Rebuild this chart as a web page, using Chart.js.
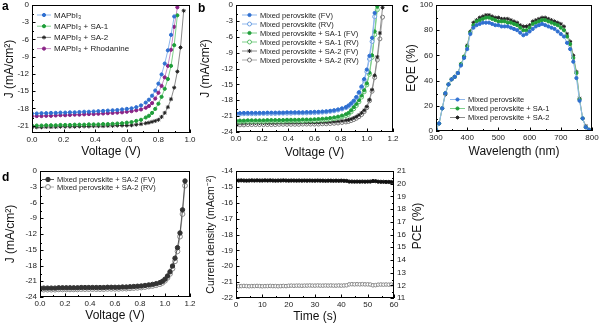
<!DOCTYPE html>
<html>
<head>
<meta charset="utf-8">
<script src="https://cdn.jsdelivr.net/npm/chart.js@4.4.1/dist/chart.umd.min.js"></script>
<style>
  body { margin: 0; background: #fff; }
  #wrap { position: relative; width: 600px; height: 324px; overflow: hidden; }
  canvas { position: absolute; }
  .tag { position: absolute; font: bold 12px 'Liberation Sans', Arial, sans-serif; line-height: 12px; color: #000; }
</style>
</head>
<body>
<div id="wrap">
  <canvas id="ca" width="198" height="162" style="left:0;top:0"></canvas>
  <canvas id="cb" width="205" height="162" style="left:198px;top:0"></canvas>
  <canvas id="cc" width="200" height="162" style="left:400px;top:0"></canvas>
  <canvas id="cd" width="198" height="162" style="left:0;top:162px"></canvas>
  <canvas id="ce" width="224" height="162" style="left:200px;top:162px"></canvas>
  <div class="tag" style="left:2px;top:0">a</div>
  <div class="tag" style="left:198px;top:2px">b</div>
  <div class="tag" style="left:402px;top:2px">c</div>
  <div class="tag" style="left:2px;top:171px">d</div>
</div>
<script>
// ---- panel a: J-V, MAPbI3 with additives
const vA = [0, 0.03, 0.06, 0.09, 0.12, 0.15, 0.18, 0.21, 0.24, 0.27, 0.30, 0.33, 0.36, 0.39, 0.42, 0.45, 0.48, 0.51, 0.54, 0.57, 0.60, 0.63, 0.66, 0.69, 0.72, 0.74, 0.76, 0.78, 0.80, 0.82, 0.84, 0.86, 0.88, 0.90, 0.92, 0.94, 0.96];
const jMAPbI = [-18.9, -18.9, -18.85, -18.85, -18.8, -18.8, -18.75, -18.75, -18.7, -18.7, -18.65, -18.6, -18.6, -18.55, -18.5, -18.45, -18.4, -18.35, -18.3, -18.2, -18.1, -18.0, -17.8, -17.5, -17.0, -16.5, -15.8, -14.9, -13.7, -12.1, -10.2, -7.9, -5.2, -2.0];
const jSA1 = [-21.0, -21.0, -21.0, -20.95, -20.95, -20.95, -20.9, -20.9, -20.9, -20.85, -20.85, -20.85, -20.8, -20.8, -20.8, -20.75, -20.75, -20.7, -20.65, -20.6, -20.5, -20.4, -20.2, -20.0, -19.6, -19.3, -18.8, -18.1, -17.2, -16.0, -14.6, -12.9, -10.6, -7.0, -1.8];
const jSA2 = [-21.3, -21.3, -21.3, -21.25, -21.25, -21.25, -21.2, -21.2, -21.2, -21.2, -21.15, -21.15, -21.15, -21.1, -21.1, -21.1, -21.05, -21.05, -21.0, -21.0, -21.0, -20.95, -20.85, -20.75, -20.6, -20.5, -20.35, -20.2, -20.0, -19.5, -18.8, -17.8, -16.4, -14.4, -11.6, -7.4, -1.0];
const jRhod = [-19.4, -19.35, -19.35, -19.3, -19.3, -19.25, -19.2, -19.2, -19.15, -19.1, -19.1, -19.05, -19.0, -19.0, -18.95, -18.9, -18.85, -18.8, -18.75, -18.7, -18.6, -18.5, -18.35, -18.2, -17.9, -17.6, -17.1, -16.3, -15.3, -14.1, -12.6, -10.6, -7.8, -3.8, -0.4];

// ---- panel b: J-V, mixed perovskite, forward / reverse scans
const vB = [0, 0.03, 0.06, 0.09, 0.12, 0.15, 0.18, 0.21, 0.24, 0.27, 0.30, 0.33, 0.36, 0.39, 0.42, 0.45, 0.48, 0.51, 0.54, 0.57, 0.60, 0.63, 0.66, 0.69, 0.72, 0.75, 0.78, 0.81, 0.84, 0.86, 0.88, 0.90, 0.92, 0.94, 0.96, 0.98, 1.00, 1.02, 1.04, 1.06, 1.08, 1.10, 1.12];
const jMixFV = [-20.45, -20.45, -20.4, -20.4, -20.4, -20.4, -20.4, -20.4, -20.35, -20.35, -20.35, -20.35, -20.35, -20.3, -20.3, -20.3, -20.3, -20.3, -20.25, -20.25, -20.2, -20.2, -20.15, -20.1, -20.0, -19.9, -19.75, -19.55, -19.3, -19.0, -18.6, -18.1, -17.4, -16.5, -15.4, -14.0, -12.2, -9.6, -6.2, -1.5];
const jMixRV = [-20.6, -20.6, -20.55, -20.55, -20.55, -20.55, -20.5, -20.5, -20.5, -20.5, -20.5, -20.45, -20.45, -20.45, -20.45, -20.4, -20.4, -20.4, -20.4, -20.35, -20.35, -20.3, -20.25, -20.2, -20.1, -20.0, -19.85, -19.65, -19.4, -19.1, -18.7, -18.2, -17.5, -16.6, -15.5, -14.2, -12.6, -10.2, -6.9, -2.2];
const jMixSA1FV = [-21.85, -21.85, -21.85, -21.8, -21.8, -21.8, -21.8, -21.8, -21.75, -21.75, -21.75, -21.75, -21.75, -21.7, -21.7, -21.7, -21.7, -21.65, -21.65, -21.65, -21.6, -21.55, -21.5, -21.45, -21.35, -21.25, -21.1, -20.9, -20.65, -20.4, -19.9, -19.3, -18.7, -18.0, -17.1, -16.1, -14.8, -12.8, -9.5, -5.0, -0.3];
const jMixSA1RV = [-22.05, -22.05, -22.0, -22.0, -22.0, -22.0, -22.0, -22.0, -21.95, -21.95, -21.95, -21.95, -21.95, -21.9, -21.9, -21.9, -21.9, -21.9, -21.85, -21.85, -21.85, -21.8, -21.75, -21.7, -21.6, -21.5, -21.35, -21.15, -20.9, -20.65, -20.2, -19.6, -19.0, -18.3, -17.4, -16.4, -15.1, -13.1, -9.9, -5.6, -0.9];
const jMixSA2FV = [-22.35, -22.35, -22.35, -22.3, -22.3, -22.3, -22.3, -22.3, -22.3, -22.3, -22.3, -22.25, -22.25, -22.25, -22.25, -22.25, -22.25, -22.2, -22.2, -22.2, -22.2, -22.2, -22.15, -22.15, -22.1, -22.05, -22.0, -21.9, -21.8, -21.7, -21.55, -21.35, -21.1, -20.8, -20.4, -19.9, -19.2, -17.9, -16.0, -13.3, -9.8, -5.3, -0.5];
const jMixSA2RV = [-22.65, -22.65, -22.65, -22.6, -22.6, -22.6, -22.6, -22.6, -22.6, -22.6, -22.6, -22.55, -22.55, -22.55, -22.55, -22.55, -22.55, -22.5, -22.5, -22.5, -22.5, -22.5, -22.45, -22.45, -22.4, -22.35, -22.3, -22.2, -22.1, -22.0, -21.85, -21.65, -21.4, -21.1, -20.7, -20.15, -19.4, -18.1, -16.3, -13.7, -10.4, -6.4, -2.3];

// ---- panel c: EQE spectra
const wl = [300, 310, 320, 330, 340, 350, 360, 370, 380, 390, 400, 410, 420, 430, 440, 450, 460, 470, 480, 490, 500, 510, 520, 530, 540, 550, 560, 570, 580, 590, 600, 610, 620, 630, 640, 650, 660, 670, 680, 690, 700, 710, 720, 730, 740, 750, 760, 770, 780, 790, 800];
const eqeMix = [1, 6, 18, 30, 37, 41, 43, 46, 52, 58, 65, 77, 82, 84, 85, 86, 86, 86, 85, 84, 84, 83, 83, 83, 82, 81, 80, 78, 76, 77, 79, 81, 83, 84, 85, 84, 83, 82, 81, 79, 77, 75, 70, 65, 55, 42, 24, 10, 3, 1, 0];
const eqeSA1 = [1, 6, 18, 30, 37, 41, 43, 46, 53, 59, 67, 78, 84, 87, 88, 89, 90, 90, 89, 88, 87, 87, 87, 86, 86, 85, 84, 82, 80, 80, 82, 85, 86, 87, 88, 88, 87, 86, 85, 84, 82, 80, 75, 69, 58, 46, 25, 10, 3, 1, 0];
const eqeSA2 = [1, 6, 18, 29, 37, 41, 43, 46, 53, 59, 68, 79, 86, 88, 90, 91, 92, 92, 91, 90, 90, 89, 89, 89, 88, 87, 86, 84, 83, 83, 84, 87, 88, 89, 90, 90, 89, 88, 87, 86, 85, 83, 77, 71, 60, 47, 26, 10, 4, 1, 0];

// ---- panel d: SA-2 device, FV vs RV
const vD = [0, 0.03, 0.06, 0.09, 0.12, 0.15, 0.18, 0.21, 0.24, 0.27, 0.30, 0.33, 0.36, 0.39, 0.42, 0.45, 0.48, 0.51, 0.54, 0.57, 0.60, 0.63, 0.66, 0.69, 0.72, 0.75, 0.78, 0.81, 0.84, 0.87, 0.90, 0.93, 0.96, 0.98, 1.00, 1.02, 1.04, 1.06, 1.08, 1.10, 1.12, 1.14, 1.16];
const jDFV = [-22.3, -22.3, -22.3, -22.3, -22.3, -22.25, -22.25, -22.25, -22.25, -22.25, -22.25, -22.2, -22.2, -22.2, -22.2, -22.2, -22.2, -22.2, -22.15, -22.15, -22.15, -22.15, -22.1, -22.1, -22.05, -22.0, -21.95, -21.9, -21.8, -21.7, -21.6, -21.45, -21.25, -21.0, -20.6, -20.0, -19.2, -18.1, -16.6, -14.6, -11.8, -7.4, -1.9];
const jDRV = [-22.6, -22.6, -22.6, -22.6, -22.6, -22.55, -22.55, -22.55, -22.55, -22.55, -22.55, -22.5, -22.5, -22.5, -22.5, -22.5, -22.5, -22.5, -22.45, -22.45, -22.45, -22.45, -22.4, -22.4, -22.35, -22.3, -22.25, -22.2, -22.1, -22.0, -21.9, -21.75, -21.55, -21.3, -20.9, -20.35, -19.6, -18.6, -17.2, -15.3, -12.5, -8.2, -2.8];

// ---- panel e: steady-state output
const tE = [0, 1, 2, 3, 4, 5, 6, 7, 8, 9, 10, 11, 12, 13, 14, 15, 16, 17, 18, 19, 20, 21, 22, 23, 24, 25, 26, 27, 28, 29, 30, 31, 32, 33, 34, 35, 36, 37, 38, 39, 40, 41, 42, 43, 44, 45, 46, 47, 48, 49, 50, 51, 52, 53, 54, 55, 56, 57, 58, 59, 60];
const jssE = [-21.25, -21.26, -21.25, -21.24, -21.25, -21.26, -21.25, -21.25, -21.24, -21.25, -21.26, -21.25, -21.25, -21.24, -21.25, -21.25, -21.26, -21.25, -21.24, -21.25, -21.23, -21.22, -21.23, -21.22, -21.22, -21.23, -21.22, -21.22, -21.21, -21.22, -21.22, -21.21, -21.22, -21.22, -21.21, -21.22, -21.21, -21.22, -21.22, -21.21, -21.22, -21.21, -21.2, -21.14, -21.13, -21.14, -21.13, -21.14, -21.13, -21.14, -21.14, -21.15, -21.2, -21.19, -21.16, -21.15, -21.16, -21.15, -21.16, -21.15, -21.16];
const pceE = [20.26, 20.25, 20.26, 20.25, 20.24, 20.25, 20.26, 20.25, 20.26, 20.25, 20.25, 20.26, 20.25, 20.26, 20.25, 20.24, 20.25, 20.25, 20.26, 20.25, 20.24, 20.25, 20.25, 20.24, 20.25, 20.24, 20.25, 20.24, 20.25, 20.24, 20.24, 20.25, 20.24, 20.24, 20.23, 20.24, 20.24, 20.23, 20.24, 20.23, 20.24, 20.23, 20.22, 20.17, 20.17, 20.16, 20.17, 20.16, 20.17, 20.16, 20.17, 20.17, 20.21, 20.2, 20.16, 20.15, 20.15, 20.14, 20.14, 20.13, 20.12];

// tick values
const ticksV10 = [0, 0.2, 0.4, 0.6, 0.8, 1.0];
const ticksV12 = [0, 0.2, 0.4, 0.6, 0.8, 1.0, 1.2];
const ticksJ21 = [0, -3, -6, -9, -12, -15, -18, -21];
const ticksJ24 = [0, -3, -6, -9, -12, -15, -18, -21, -24];
const ticksWl = [300, 400, 500, 600, 700, 800];
const ticksEqe = [0, 20, 40, 60, 80, 100];
const ticksT = [0, 10, 20, 30, 40, 50, 60];
const ticksJss = [-14, -15, -16, -17, -18, -19, -20, -21, -22];
const ticksPce = [11, 12, 13, 14, 15, 16, 17, 18, 19, 20, 21];

const FONT = "'Liberation Sans', Arial, sans-serif";
Chart.defaults.font.family = FONT;
Chart.defaults.color = '#222';

const BLUE = '#2f6fd0', BLUE_L = '#8fb7ec';
const GREEN = '#1f9e3a', GREEN_L = '#7fd08b';
const DARK = '#222', GRAY_L = '#8a8a8a';
const PURPLE = '#8a2386', PURPLE_L = '#c98cc5';

function xy(xs, ys) { return ys.map((y, i) => ({ x: xs[i], y })); }

function series(label, xs, ys, style) {
  return Object.assign({
    label, data: xy(xs, ys), showLine: true, borderWidth: 1, tension: 0,
    pointStyle: 'circle', pointRadius: 1.6, pointBorderWidth: 1
  }, style);
}
const filled = (c, l) => ({ borderColor: l, pointBackgroundColor: c, pointBorderColor: c });
const open = (c, l) => ({ borderColor: l, pointBackgroundColor: '#fff', pointBorderColor: c, pointRadius: 2 });
const star = (c, l) => ({ borderColor: l, pointBackgroundColor: c, pointBorderColor: c, pointStyle: 'star', pointRadius: 2 });

function axis(pos, min, max, ticks, size, fmt, title) {
  return {
    type: 'linear', position: pos, min, max,
    afterBuildTicks: s => { s.ticks = ticks.map(v => ({ value: v })); },
    afterFit: s => {
      if (pos === 'bottom') s.height = size; else s.width = size;
      s.paddingLeft = s.paddingRight = s.paddingTop = s.paddingBottom = 0;
    },
    grid: { display: false, drawTicks: false },
    border: { display: false },
    ticks: { font: { size: 8, lineHeight: 1 }, color: '#222', padding: 3, autoSkip: false, maxRotation: 0, callback: fmt },
    title: title ? { display: true, text: title.text, font: { size: title.size || 12 }, color: '#111',
      padding: { top: title.pad, bottom: title.pad } } : { display: false }
  };
}

// box frame with inward major / minor ticks
const framePlugin = {
  id: 'frame',
  afterDatasetsDraw(chart) {
    const { ctx, chartArea: a } = chart;
    ctx.save();
    ctx.strokeStyle = '#000';
    ctx.lineWidth = 1;
    ctx.strokeRect(Math.round(a.left) + 0.5, Math.round(a.top) + 0.5, Math.round(a.right - a.left) - 1, Math.round(a.bottom - a.top) - 1);
    for (const s of Object.values(chart.scales)) {
      const px = s.ticks.map(t => Math.round(s.getPixelForValue(t.value)) + 0.5);
      const marks = px.map(p => [p, 3.5]);
      for (let i = 0; i < px.length - 1; i++) marks.push([Math.round((px[i] + px[i + 1]) / 2) + 0.5, 2]);
      ctx.beginPath();
      for (const [p, len] of marks) {
        if (s.axis === 'x') { ctx.moveTo(p, a.bottom); ctx.lineTo(p, a.bottom - len); }
        else if (s.position === 'right') { ctx.moveTo(a.right, p); ctx.lineTo(a.right - len, p); }
        else { ctx.moveTo(a.left, p); ctx.lineTo(a.left + len, p); }
      }
      ctx.stroke();
    }
    ctx.restore();
  }
};

// legend drawn inside the plot box
const inLegend = {
  id: 'inLegend',
  afterDraw(chart, args, o) {
    if (!o || o.x === undefined) return;
    const ctx = chart.ctx;
    ctx.save();
    ctx.font = `${o.size || 8}px ${FONT}`;
    ctx.textBaseline = 'middle';
    chart.data.datasets.forEach((d, i) => {
      const y = o.y + i * o.dy;
      ctx.strokeStyle = d.borderColor;
      ctx.lineWidth = 1;
      ctx.beginPath(); ctx.moveTo(o.x, y); ctx.lineTo(o.x + o.len, y); ctx.stroke();
      ctx.fillStyle = d.pointBackgroundColor;
      ctx.strokeStyle = d.pointBorderColor;
      Chart.helpers.drawPoint(ctx, { pointStyle: d.pointStyle, rotation: 0, radius: d.pointRadius, borderWidth: 1 }, o.x + o.len / 2, y);
      ctx.fillStyle = '#222';
      ctx.fillText(d.label, o.x + o.len + 3, y + 0.5);
    });
    ctx.restore();
  }
};

const sideTitle = {
  id: 'sideTitle',
  afterDraw(chart, args, o) {
    if (!o || !o.text) return;
    const ctx = chart.ctx;
    ctx.save();
    ctx.translate(o.x, o.y);
    ctx.rotate(-Math.PI / 2);
    ctx.font = `${o.size}px ${FONT}`;
    ctx.textAlign = 'center';
    ctx.textBaseline = 'middle';
    ctx.fillStyle = '#111';
    ctx.fillText(o.text, 0, 0);
    ctx.restore();
  }
};

function panel(id, datasets, scales, pad, legend, side) {
  return new Chart(document.getElementById(id), {
    type: 'scatter',
    data: { datasets },
    options: {
      responsive: false, animation: false, events: [],
      layout: { padding: { top: pad[0], right: pad[1], bottom: 0, left: 0 } },
      plugins: { legend: { display: false }, tooltip: { enabled: false }, inLegend: legend || {}, sideTitle: side || {} },
      scales
    },
    plugins: [framePlugin, inLegend, sideTitle]
  });
}

const f1 = v => v.toFixed(1);
const f0 = v => String(v);
const jTitle = 'J (mA/cm\u00B2)';

// a
panel('ca', [
  series('MAPbI\u2083', vA, jMAPbI, filled(BLUE, BLUE_L)),
  series('MAPbI\u2083 + SA-1', vA, jSA1, filled(GREEN, GREEN_L)),
  series('MAPbI\u2083 + SA-2', vA, jSA2, star(DARK, GRAY_L)),
  series('MAPbI\u2083 + Rhodanine', vA, jRhod, filled(PURPLE, PURPLE_L))
], {
  x: axis('bottom', 0, 1.0, ticksV10, 29, f1, { text: 'Voltage (V)', pad: 3 }),
  y: axis('left', -22.3, 0, ticksJ21, 32, f0, { text: jTitle, pad: 2 })
}, [4, 8], { x: 37, y: 15, dy: 11.2, len: 14, size: 8 });

// b
panel('cb', [
  series('Mixed perovskite (FV)', vB, jMixFV, filled(BLUE, BLUE_L)),
  series('Mixed perovskite (RV)', vB, jMixRV, open('#6c9fe2', BLUE_L)),
  series('Mixed perovskite + SA-1 (FV)', vB, jMixSA1FV, filled(GREEN, GREEN_L)),
  series('Mixed perovskite + SA-1 (RV)', vB, jMixSA1RV, open('#5cbf6a', GREEN_L)),
  series('Mixed perovskite + SA-2 (FV)', vB, jMixSA2FV, star(DARK, GRAY_L)),
  series('Mixed perovskite + SA-2 (RV)', vB, jMixSA2RV, open('#777', '#aaa'))
], {
  x: axis('bottom', 0, 1.2, ticksV12, 30, f1, { text: 'Voltage (V)', pad: 2 }),
  y: axis('left', -24, 0, ticksJ24, 38, f0, { text: jTitle, pad: 0 })
}, [5, 10], { x: 44, y: 15, dy: 9, len: 15, size: 7.5 });

// c
panel('cc', [
  series('Mixed perovskite', wl, eqeMix, filled(BLUE, BLUE_L)),
  series('Mixed perovskite + SA-1', wl, eqeSA1, filled(GREEN, GREEN_L)),
  series('Mixed perovskite + SA-2', wl, eqeSA2, star(DARK, GRAY_L))
], {
  x: axis('bottom', 300, 800, ticksWl, 31, f0, { text: 'Wavelength (nm)', pad: 3 }),
  y: axis('left', 0, 100, ticksEqe, 36, f0, { text: 'EQE (%)', pad: 4 })
}, [5, 8], { x: 50, y: 99.5, dy: 9, len: 15, size: 7.5 });

// d
panel('cd', [
  series('Mixed perovskite + SA-2 (FV)', vD, jDFV, Object.assign(filled('#333', '#555'), { pointRadius: 2.2 })),
  series('Mixed perovskite + SA-2 (RV)', vD, jDRV, Object.assign(open('#888', '#aaa'), { pointRadius: 2.4 }))
], {
  x: axis('bottom', 0, 1.2, ticksV12, 27, f1, { text: 'Voltage (V)', pad: 1 }),
  y: axis('left', -24, 0, ticksJ24, 40, f0, { text: jTitle, pad: 3 })
}, [9, 8], { x: 42, y: 17.5, dy: 7.5, len: 12, size: 7.5 });

// e
panel('ce', [
  series('Current density', tE, jssE, Object.assign(open('#888', '#bbb'), { pointRadius: 1.8 })),
  series('PCE', tE, pceE, Object.assign(filled('#111', '#333'), { yAxisID: 'y1', pointRadius: 1.6 }))
], {
  x: axis('bottom', 0, 60, ticksT, 26, f0, { text: 'Time (s)', pad: 0 }),
  y: axis('left', -22, -14, ticksJss, 36, f0, { text: 'Current density (mAcm\u207B\u00B2)', pad: 5, size: 10.5 }),
  y1: axis('right', 11, 21, ticksPce, 30, f0)
}, [9, 0], null, { text: 'PCE (%)', x: 218, y: 64, size: 12 });
</script>
</body>
</html>
